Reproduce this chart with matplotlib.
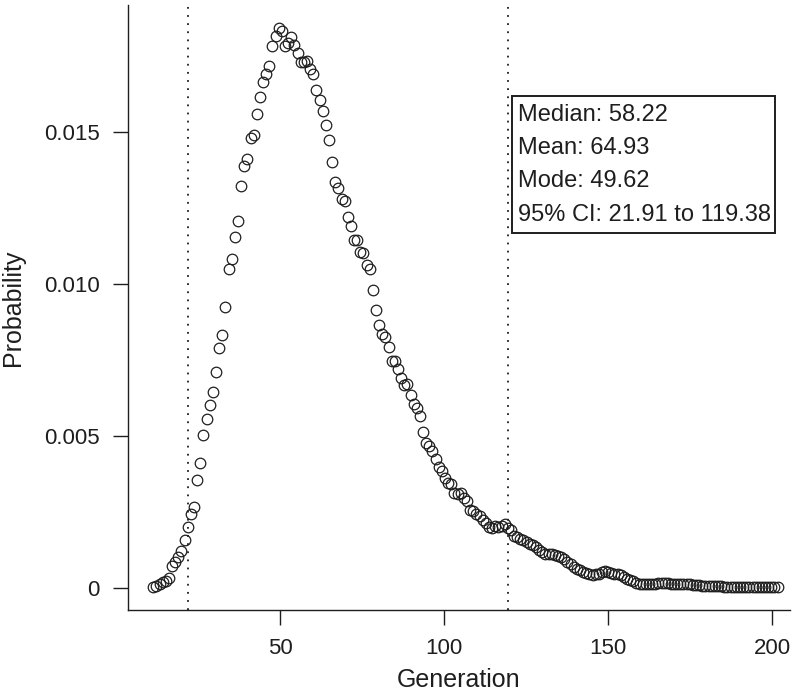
import matplotlib.pyplot as plt
from matplotlib.patches import Rectangle
import numpy as np

# posterior of the generation estimate
probability = [
    0.00001, 0.00005, 0.0001, 0.00017, 0.00023, 0.0003,
    0.00072, 0.00083, 0.0010, 0.0012, 0.00155, 0.0020, 0.00243, 0.00266,
    0.00356, 0.00409, 0.00503, 0.00555, 0.0060, 0.00646, 0.0071, 0.00788, 0.00831, 0.00926,
    0.01051, 0.01083, 0.01155, 0.01208, 0.01324, 0.01391, 0.01411, 0.01481, 0.0149, 0.0156,
    0.01617, 0.01667, 0.01692, 0.01718, 0.01786, 0.01817, 0.01843, 0.01834, 0.01784, 0.01795,
    0.01815, 0.01788, 0.01762, 0.01733, 0.01733, 0.01737, 0.01709, 0.01692, 0.01639, 0.01607,
    0.01571, 0.01524, 0.01475, 0.01401, 0.01337, 0.01317, 0.0128, 0.01275, 0.0122, 0.01192,
    0.01147, 0.01145, 0.01105, 0.01104, 0.01063, 0.0105, 0.0098, 0.00916, 0.00864, 0.00837,
    0.00826, 0.00793, 0.00748, 0.00745, 0.00721, 0.00691, 0.00668, 0.0067, 0.00636, 0.00605,
    0.00593, 0.00564, 0.00513, 0.00478, 0.00467, 0.00449, 0.00423, 0.00398, 0.00384, 0.0036,
    0.00346, 0.0034, 0.00313, 0.00307, 0.00313, 0.00296, 0.00285, 0.00257, 0.00252, 0.00241,
    0.00235, 0.00224, 0.00213, 0.00198, 0.00197, 0.00202, 0.00198, 0.00202, 0.00208, 0.00197,
    0.0019, 0.0017, 0.00165, 0.0016, 0.00155, 0.0015, 0.00145, 0.0014, 0.00135, 0.00125,
    0.00118, 0.00112, 0.0011, 0.00112, 0.00108, 0.00104, 0.001, 0.00095, 0.00085, 0.00076,
    0.00068, 0.00062, 0.00058, 0.00052, 0.00047, 0.00043, 0.00042, 0.00044, 0.00046, 0.0005,
    0.00053, 0.00052, 0.00048, 0.00045, 0.00044, 0.0004, 0.00034, 0.00029, 0.00025, 0.0002,
    0.00016, 0.00013, 0.00012, 0.00012, 0.00011, 0.00012, 0.00013, 0.00014, 0.00015, 0.00015,
    0.00014, 0.00013, 0.00012, 0.00012, 0.00013, 0.00012, 0.00011, 0.0001, 0.00009, 0.00008,
    0.00007, 0.00006, 0.00006, 0.00005, 0.00005, 0.00004, 0.00004, 0.00004, 0.00003, 0.00003,
    0.00003, 0.00003, 0.00002, 0.00002, 0.00002, 0.00002, 0.00002, 0.00002, 0.00002, 0.00002,
    0.00001, 0.00001, 0.00001, 0.00001, 0.00001, 0.00001,
]
gen_first, gen_last = 11.3, 201.7
generation = np.linspace(gen_first, gen_last, len(probability))

median = 58.22
mean = 64.93
mode = 49.62
ci_low, ci_high = 21.91, 119.38

xticks = [50, 100, 150, 200]
yticks = [0, 0.005, 0.010, 0.015]
ytick_labels = ['0', '0.005', '0.010', '0.015']

axis_font = ['Liberation Sans Narrow', 'Liberation Sans', 'DejaVu Sans']
box_font = ['Liberation Sans', 'DejaVu Sans']
ink = '#1e1e1e'

fig = plt.figure(figsize=(8, 6.96), dpi=100)
ax = fig.add_axes([0.1596, 0.1236, 0.828, 0.8692])

ax.plot(generation, probability, linestyle='none', marker='o', markersize=7.6,
        markerfacecolor='none', markeredgecolor=ink, markeredgewidth=0.9)

for v in (ci_low, ci_high):
    ax.axvline(v, color=ink, linestyle=(0, (1, 3.5)), linewidth=1.3)

ax.set_xlim(3.5, 205.5)
ax.set_ylim(-0.00074, 0.0192)
ax.set_xticks(xticks)
ax.set_xticklabels([str(t) for t in xticks], family=axis_font, fontsize=16, color=ink)
ax.set_yticks(yticks)
ax.set_yticklabels(ytick_labels, family=axis_font, fontsize=16, color=ink)
ax.tick_params(direction='out', length=11, width=1, colors=ink, pad=9)
ax.set_xlabel('Generation', family=axis_font, fontsize=18, color=ink, labelpad=7)
ax.set_ylabel('Probability', family=axis_font, fontsize=18, color=ink, labelpad=14)

for side in ('top', 'right'):
    ax.spines[side].set_visible(False)
for side in ('left', 'bottom'):
    ax.spines[side].set_color(ink)
    ax.spines[side].set_linewidth(1)

# stats box
ax.add_patch(Rectangle((120.6, 0.01168), 80.4, 0.00453, facecolor='white',
                       edgecolor=ink, linewidth=1.4, zorder=5))
stats_lines = ['Median: %.2f' % median, 'Mean: %.2f' % mean,
               'Mode: %.2f' % mode, '95%% CI: %.2f to %.2f' % (ci_low, ci_high)]
for k, line in enumerate(stats_lines):
    ax.text(122.4, 0.01559 - k * 0.00110, line, family=box_font, fontsize=17,
            color=ink, va='center', ha='left', zorder=6)

plt.savefig('out.png', dpi=100)
